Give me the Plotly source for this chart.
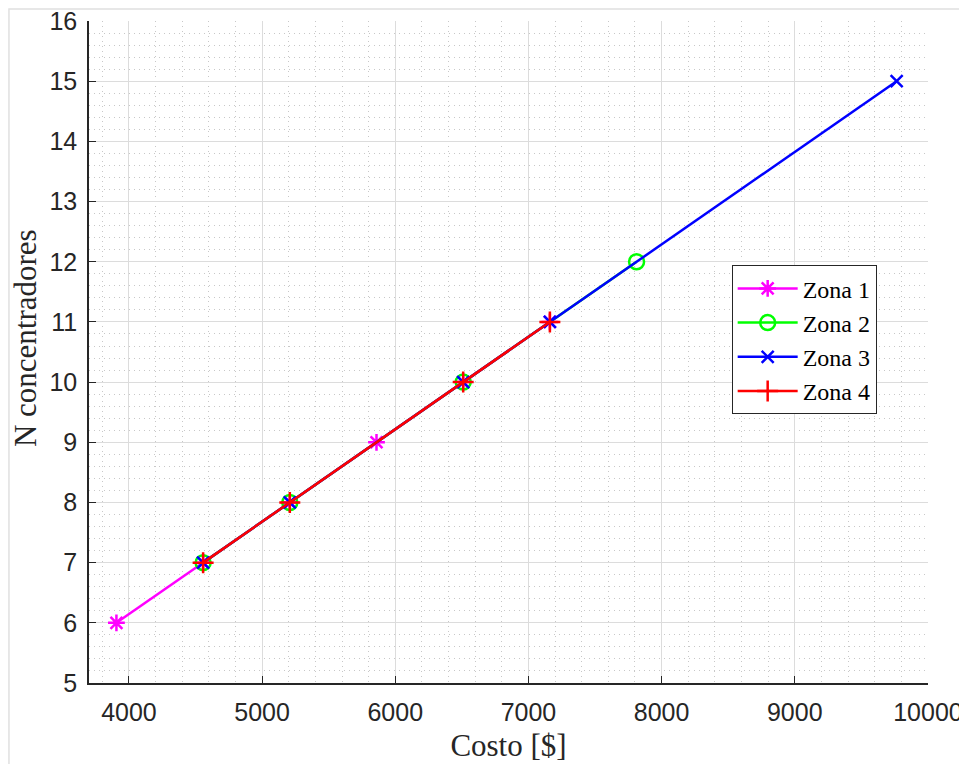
import plotly.graph_objects as go

# Data
zona1_cost = [3906, 4557, 5208, 5859, 6510, 7161]
zona1_n = [6, 7, 8, 9, 10, 11]
zona2_cost = [4557, 5208, 6510, 7812]
zona2_n = [7, 8, 10, 12]
zona3_cost = [4557, 5208, 6510, 7161, 9765]
zona3_n = [7, 8, 10, 11, 15]
zona4_cost = [4557, 5208, 6510, 7161]
zona4_n = [7, 8, 10, 11]

series = [
    ("Zona 1", zona1_cost, zona1_n, "#FF00FF", "asterisk-open", 14),
    ("Zona 2", zona2_cost, zona2_n, "#00FF00", "circle-open", 15),
    ("Zona 3", zona3_cost, zona3_n, "#0000FF", "x-thin-open", 12),
    ("Zona 4", zona4_cost, zona4_n, "#FF0000", "cross-thin-open", 15),
]

fig = go.Figure()
for name, xs, ys, color, sym, sz in series:
    fig.add_trace(go.Scatter(
        x=xs, y=ys, name=name, mode="lines+markers",
        line=dict(color=color, width=2.5),
        marker=dict(symbol=sym, size=sz, color=color, line=dict(color=color, width=2.5)),
    ))

tickfont = dict(family="Liberation Sans, Arial, sans-serif", size=25, color="#262626")
titlefont = dict(family="Liberation Serif, Times New Roman, serif", size=31, color="#262626")

fig.update_xaxes(
    range=[3700, 10000.5], tickmode="array",
    tickvals=[4000, 5000, 6000, 7000, 8000, 9000, 10000],
    ticktext=["4000", "5000", "6000", "7000", "8000", "9000", "10000"],
    ticks="inside", ticklen=7, tickcolor="#262626", tickwidth=1,
    showline=True, linecolor="#262626", linewidth=1.5, mirror=False,
    showgrid=True, gridcolor="#dcdcdc", gridwidth=1,
    minor=dict(dtick=200, tick0=0, showgrid=True, gridcolor="#c8c8c8", griddash="1px,4px", gridwidth=1),
    zeroline=False, tickfont=tickfont, automargin=False, ticklabelstandoff=6,
    ticklabeloverflow="allow",
    title=dict(text="Costo [$]", font=titlefont, standoff=10),
)
fig.update_yaxes(
    range=[5, 16.001], tickmode="array",
    tickvals=list(range(5, 17)),
    ticks="inside", ticklen=7, tickcolor="#262626", tickwidth=1,
    showline=True, linecolor="#262626", linewidth=1.5, mirror=False,
    showgrid=True, gridcolor="#dcdcdc", gridwidth=1,
    minor=dict(dtick=0.2, tick0=0, showgrid=True, gridcolor="#c8c8c8", griddash="1px,4px", gridwidth=1),
    zeroline=False, tickfont=tickfont, automargin=False, ticklabelstandoff=5,
    ticklabeloverflow="allow",
)

fig.add_annotation(
    text="N concentradores", textangle=-90, showarrow=False,
    xref="paper", yref="paper", x=-0.0763, y=0.521,
    xanchor="center", yanchor="middle", font=titlefont, borderpad=0,
)

fig.add_shape(type="rect", xref="paper", yref="paper",
              x0=-0.0954, x1=1.0429, y0=-0.14, y1=1.018,
              line=dict(color="#e0e0e0", width=1.5), layer="below")

fig.update_layout(
    width=967, height=764,
    margin=dict(l=81, r=47, t=13, b=89),
    plot_bgcolor="white", paper_bgcolor="white",
    legend=dict(
        x=0.766, y=0.631, xanchor="left", yanchor="top",
        bgcolor="white", bordercolor="#262626", borderwidth=1,
        font=dict(family="Liberation Serif, Times New Roman, serif", size=24, color="black"),
        tracegroupgap=0, itemwidth=60,
    ),
)

fig.write_html("out.html")
